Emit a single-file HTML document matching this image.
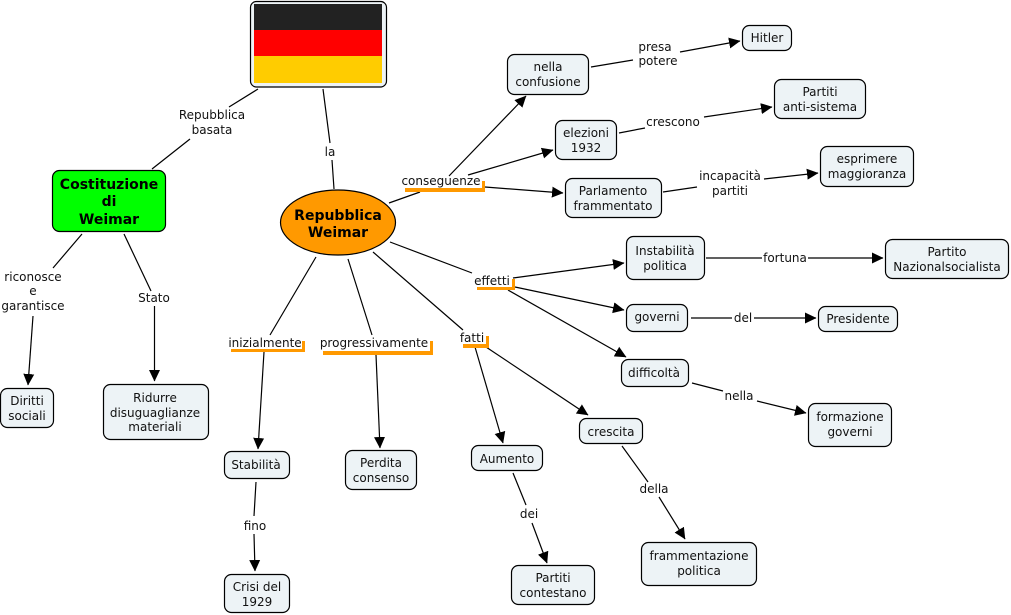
<!DOCTYPE html>
<html><head><meta charset="utf-8"><style>
html,body{margin:0;padding:0;background:#fff}
svg{display:block}
text{font-family:"DejaVu Sans","Liberation Sans",sans-serif;font-size:12px;fill:#111;text-anchor:middle}
.b{font-weight:bold;font-size:14px;fill:#000}
.n{fill:#edf3f6;stroke:#000;stroke-width:1.2}
.l{stroke:#000;stroke-width:1.2;fill:none}
.a{stroke:#000;stroke-width:1.2;fill:none;marker-end:url(#m)}
.o{fill:#f90}
</style></head><body>
<svg width="1011" height="615" viewBox="0 0 1011 615" xmlns="http://www.w3.org/2000/svg">
<defs><marker id="m" markerUnits="userSpaceOnUse" markerWidth="12" markerHeight="12" refX="11" refY="6" orient="auto" viewBox="0 0 12 12"><path d="M0 0.500L11.500 6L0 11.500Z" fill="#000"/></marker></defs>

<!-- plain connectors -->
<path class="l" d="M258 89L229 107M190 139L152 169M323 89L330 143M332 160L334 189M389 203L420 192M390 242L472 273M316 257L270 335M348 259L372 335M373 252L463 330M82 234L53 268M124 234L151 291"/>
<path class="l" d="M591 67L633 60M619 133L645 128M663 192L697 187M706 258L762 258M691 318L732 318M692 383L723 391M513 473L526 505M622 446L648 482M256 482L254 516"/>
<!-- arrows -->
<path class="a" d="M449 176L526 96"/>
<path class="a" d="M468 175L553 150"/>
<path class="a" d="M485 187L563 193"/>
<path class="a" d="M680 52L740 41"/>
<path class="a" d="M704 117L772 107"/>
<path class="a" d="M764 179L818 173"/>
<path class="a" d="M513 278L624 263"/>
<path class="a" d="M515 287L624 310"/>
<path class="a" d="M508 290L626 357"/>
<path class="a" d="M808 258L883 258"/>
<path class="a" d="M754 318L816 318"/>
<path class="a" d="M757 401L806 413"/>
<path class="a" d="M264 352L258 449"/>
<path class="a" d="M376 355L380 448"/>
<path class="a" d="M475 347L503 443"/>
<path class="a" d="M486 347L588 415"/>
<path class="a" d="M532 523L547 563"/>
<path class="a" d="M659 497L685 539"/>
<path class="a" d="M254 534L255 571"/>
<path class="a" d="M33 316L28 385"/>
<path class="a" d="M154.500 306L154.500 381"/>

<!-- orange brackets -->
<path class="o" d="M405 188H482V181H485V192H405Z"/>
<path class="o" d="M231 349H302V341H305V352H231Z"/>
<path class="o" d="M323 351H430V341H433V355H323Z"/>
<path class="o" d="M463 344H486V336H489V348H463Z"/>
<path class="o" d="M477 287H512V279H515V290H477Z"/>

<!-- flag -->
<rect x="250.500" y="1.500" width="136" height="85.500" rx="6" fill="#edf3f6" stroke="#000" stroke-width="1.200"/>
<rect x="254" y="4" width="128" height="26" fill="#222"/>
<rect x="254" y="30" width="128" height="26" fill="#f00"/>
<rect x="254" y="56" width="128" height="27" fill="#fc0"/>

<!-- ellipse and green -->
<ellipse cx="338" cy="222.500" rx="57.500" ry="32.500" fill="#f90" stroke="#000" stroke-width="1.200"/>
<text class="b" x="338" y="220">Repubblica</text>
<text class="b" x="338" y="237">Weimar</text>
<rect x="52.500" y="170.500" width="113" height="61" rx="7" fill="#0f0" stroke="#000" stroke-width="1.200"/>
<text class="b" x="109" y="189">Costituzione</text>
<text class="b" x="109" y="206">di</text>
<text class="b" x="109" y="224">Weimar</text>

<!-- nodes -->
<rect class="n" x="0.500" y="388.500" width="53" height="39" rx="7"/>
<text x="27" y="405">Diritti</text><text x="27" y="420">sociali</text>
<rect class="n" x="103.500" y="384.500" width="105" height="55" rx="7"/>
<text x="155" y="402">Ridurre</text><text x="155" y="417">disuguaglianze</text><text x="155" y="431">materiali</text>
<rect class="n" x="224.500" y="451.500" width="65" height="27" rx="7"/>
<text x="256" y="469">Stabilità</text>
<rect class="n" x="345.500" y="450.500" width="71" height="39" rx="7"/>
<text x="381" y="467">Perdita</text><text x="381" y="482">consenso</text>
<rect class="n" x="471.500" y="445.500" width="71" height="25" rx="7"/>
<text x="507" y="463">Aumento</text>
<rect class="n" x="579.500" y="418.500" width="63" height="25" rx="7"/>
<text x="611" y="436">crescita</text>
<rect class="n" x="224.500" y="574.500" width="65" height="38" rx="7"/>
<text x="257" y="591">Crisi del</text><text x="257" y="606">1929</text>
<rect class="n" x="511.500" y="565.500" width="83" height="39" rx="7"/>
<text x="553" y="582">Partiti</text><text x="553" y="597">contestano</text>
<rect class="n" x="641.500" y="542.500" width="115" height="43" rx="7"/>
<text x="699" y="560">frammentazione</text><text x="699" y="575">politica</text>
<rect class="n" x="626.500" y="236.500" width="78" height="43" rx="7"/>
<text x="665" y="255">Instabilità</text><text x="665" y="270">politica</text>
<rect class="n" x="626.500" y="304.500" width="61" height="27" rx="7"/>
<text x="657" y="321">governi</text>
<rect class="n" x="621.500" y="359.500" width="67" height="27" rx="7"/>
<text x="654" y="377">difficoltà</text>
<rect class="n" x="808.500" y="403.500" width="83" height="43" rx="7"/>
<text x="850" y="421">formazione</text><text x="850" y="436">governi</text>
<rect class="n" x="818.500" y="306.500" width="79" height="25" rx="7"/>
<text x="858" y="323">Presidente</text>
<rect class="n" x="885.500" y="239.500" width="123" height="39" rx="7"/>
<text x="947" y="256">Partito</text><text x="947" y="271">Nazionalsocialista</text>
<rect class="n" x="507.500" y="54.500" width="81" height="40" rx="7"/>
<text x="548" y="71">nella</text><text x="548" y="86">confusione</text>
<rect class="n" x="742.500" y="25.500" width="49" height="25" rx="7"/>
<text x="767" y="42">Hitler</text>
<rect class="n" x="555.500" y="120.500" width="61" height="39" rx="7"/>
<text x="586" y="137">elezioni</text><text x="586" y="152">1932</text>
<rect class="n" x="774.500" y="79.500" width="91" height="39" rx="7"/>
<text x="820" y="96">Partiti</text><text x="820" y="111">anti-sistema</text>
<rect class="n" x="565.500" y="178.500" width="96" height="39" rx="7"/>
<text x="613" y="195">Parlamento</text><text x="613" y="210">frammentato</text>
<rect class="n" x="820.500" y="146.500" width="93" height="40" rx="7"/>
<text x="867" y="163">esprimere</text><text x="867" y="178">maggioranza</text>

<!-- link labels -->
<text x="212" y="119">Repubblica</text><text x="212" y="134">basata</text>
<text x="330" y="156">la</text>
<text x="441" y="185">conseguenze</text>
<text x="655" y="51">presa</text><text x="658" y="65">potere</text>
<text x="673" y="126">crescono</text>
<text x="730" y="180">incapacità</text><text x="730" y="195">partiti</text>
<text x="492" y="285">effetti</text>
<text x="785" y="262">fortuna</text>
<text x="743" y="322">del</text>
<text x="739" y="400">nella</text>
<text x="265" y="347">inizialmente</text>
<text x="374" y="347">progressivamente</text>
<text x="472" y="342">fatti</text>
<text x="529" y="518">dei</text>
<text x="654" y="493">della</text>
<text x="255" y="530">fino</text>
<text x="33" y="281">riconosce</text><text x="33" y="295">e</text><text x="33" y="310">garantisce</text>
<text x="154" y="302">Stato</text>
</svg>
</body></html>
